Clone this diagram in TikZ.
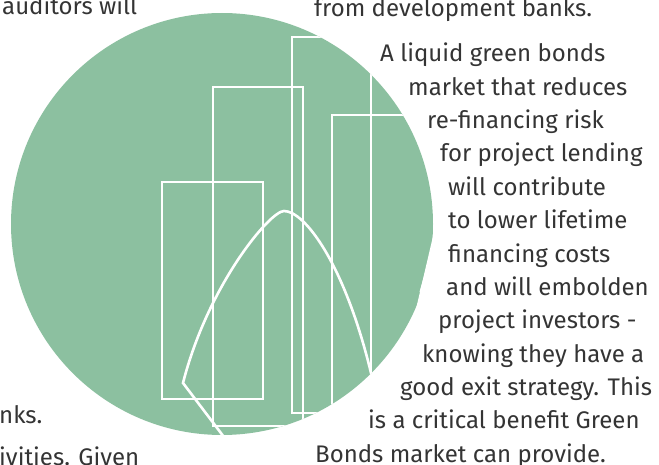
\documentclass[tikz,border=0pt]{standalone}
\usepackage{fontspec}
\setmainfont{Fira Sans}
\definecolor{leaf}{RGB}{140,192,160}
\definecolor{ink}{RGB}{52,52,52}
\tikzset{
  txt/.style={anchor=base west, inner sep=0pt, text=ink, font=\fontsize{24}{33}\selectfont},
  bar/.style={draw=white, line width=2.6pt},
}
\begin{document}
\begin{tikzpicture}[x=1pt,y=-1pt]
\useasboundingbox (0,0) rectangle (659,465);
\coordinate (c0) at (222,224);
\fill[leaf] (c0) circle (211);
\fill[white] (434,232) -- (446,232) -- (446,309) -- (416,309) -- cycle;
\draw[white, line width=1pt] (435,240) -- (420,292);
\begin{scope}
\clip (c0) circle (211);
\coordinate (r1a) at (162,182);
\coordinate (r1b) at (263,399);
\coordinate (r2a) at (213,87);
\coordinate (r2b) at (303,426);
\coordinate (r3a) at (292,37);
\coordinate (r3b) at (371,413);
\coordinate (r4a) at (332,115);
\coordinate (r4b) at (445,407);
\draw[bar] (r1a) rectangle (r1b);
\draw[bar] (r2a) rectangle (r2b);
\draw[bar] (r3a) rectangle (r3b);
\draw[bar] (r4a) rectangle (r4b);
\coordinate (kink) at (183,383);
\coordinate (peak) at (284,211);
\coordinate (tail) at (371,373);
\coordinate (foot) at (230,445);
\draw[bar, line join=miter] (foot) -- (kink) .. controls (208,285) and (270,211) .. (peak)
  .. controls (305,211) and (345,265) .. (tail) -- (380,405);
\end{scope}
\node[txt] (au) at (2,15) {auditors will};
\node[txt] (fr) at (314,17) {from development banks.};
\node[txt] (nk) at (-1,423) {nks.};
\node[txt] (iv) at (-1,465) {ivities. Given};
\node[txt] (l1) at (380,62) {A liquid green bonds};
\node[txt] (l2) at (408,95.3) {market that reduces};
\node[txt] (l3) at (427,128.7) {re-financing risk};
\node[txt] (l4) at (440,162) {for project lending};
\node[txt] (l5) at (448,195.3) {will contribute};
\node[txt] (l6) at (448,228.7) {to lower lifetime};
\node[txt] (l7) at (448,262) {financing costs};
\node[txt] (l8) at (446,295.3) {and will embolden};
\node[txt] (l9) at (438,328.7) {project investors -};
\node[txt] (l10) at (422,362) {knowing they have a};
\node[txt] (l11) at (400,395.3) {good exit strategy. This};
\node[txt] (l12) at (368,428.7) {is a critical benefit Green};
\node[txt] (l13) at (315,462) {Bonds market can provide.};
\end{tikzpicture}
\end{document}
